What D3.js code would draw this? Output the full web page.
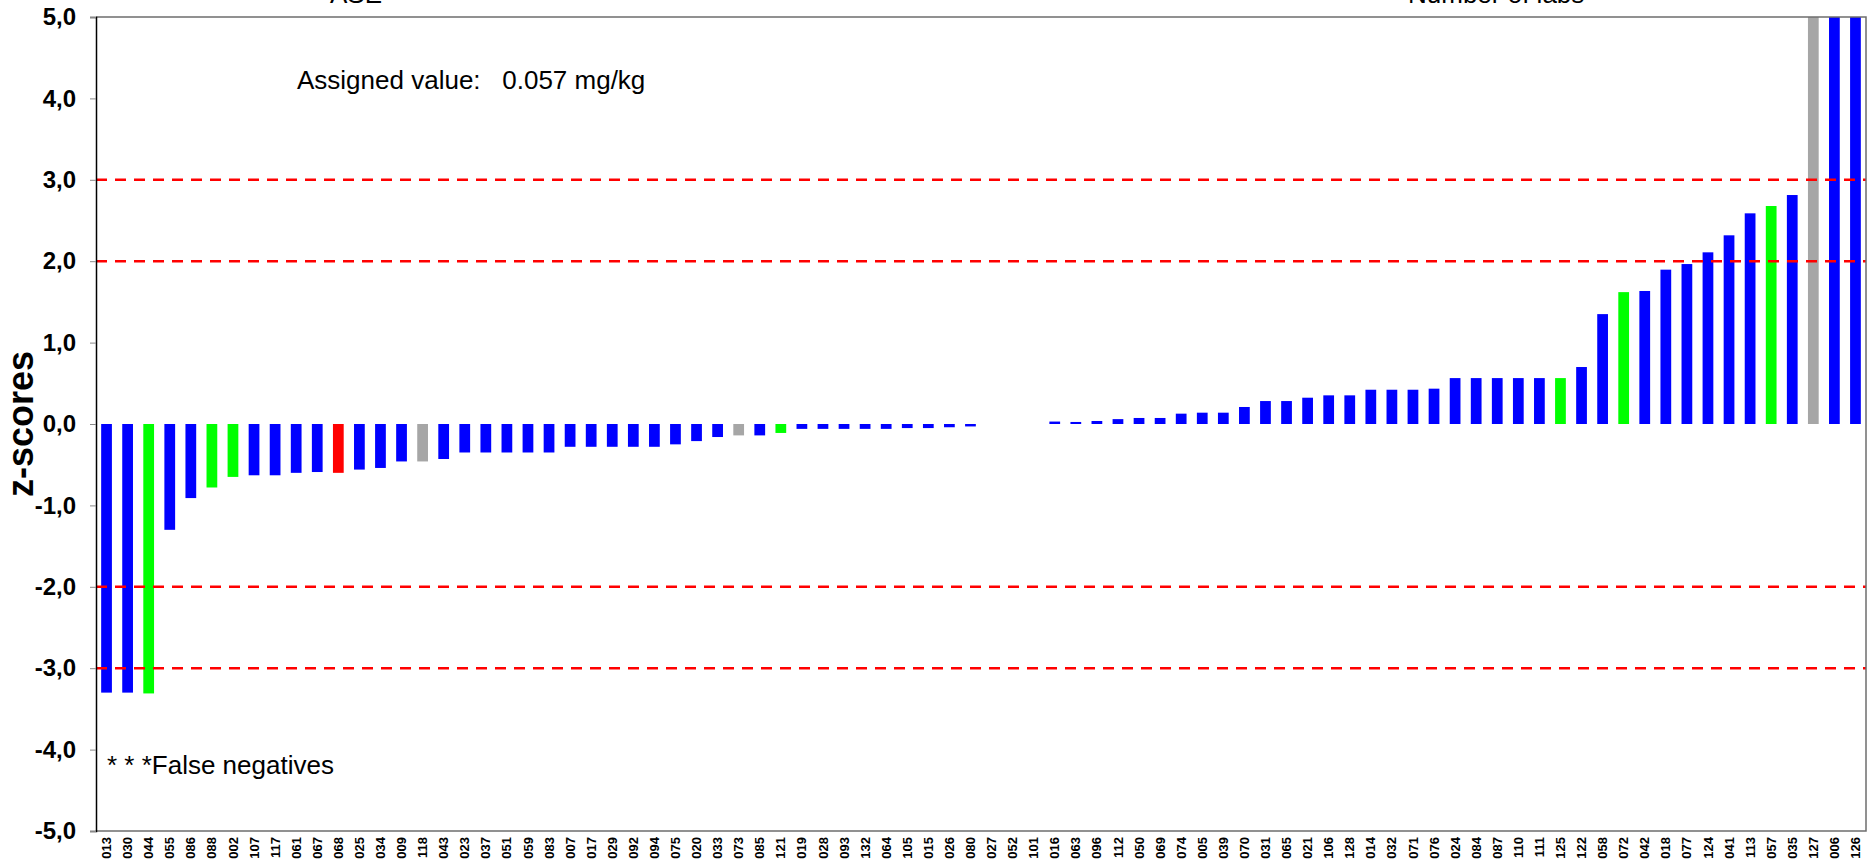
<!DOCTYPE html>
<html>
<head>
<meta charset="utf-8">
<script src="https://cdn.jsdelivr.net/npm/d3@7"></script>
<style>
  html, body { margin: 0; padding: 0; background: #fff; }
  svg { display: block; font-family: "Liberation Sans", Arial, sans-serif; }
</style>
</head>
<body>
<svg id="chart" width="1874" height="867"></svg>
<script>
// ---- data ----
const labs = ["013","030","044","055","086","088","002","107","117","061","067","068","025","034","009","118","043","023","037","051","059","083","007","017","029","092","094","075","020","033","073","085","121","019","028","093","132","064","105","015","026","080","027","052","101","016","063","096","112","050","069","074","005","039","070","031","065","021","106","128","014","032","071","076","024","084","087","110","111","125","122","058","072","042","018","077","124","041","113","057","035","127","006","126"];
const zScores = [-3.30,-3.30,-3.31,-1.30,-0.91,-0.78,-0.65,-0.63,-0.63,-0.60,-0.59,-0.60,-0.56,-0.54,-0.46,-0.46,-0.43,-0.35,-0.35,-0.35,-0.35,-0.35,-0.28,-0.28,-0.28,-0.28,-0.28,-0.25,-0.21,-0.16,-0.14,-0.14,-0.11,-0.06,-0.06,-0.06,-0.06,-0.06,-0.05,-0.05,-0.04,-0.03,0.00,0.00,0.00,0.03,0.025,0.037,0.06,0.074,0.074,0.127,0.139,0.139,0.209,0.282,0.282,0.323,0.352,0.352,0.421,0.421,0.421,0.434,0.564,0.564,0.564,0.564,0.564,0.564,0.70,1.35,1.62,1.634,1.896,1.965,2.109,2.318,2.588,2.678,2.813,5.9,7.4,10.2];
// bar category: "std" = regular lab, "grn", "red", "gry" as marked in the report
const barGroup = ["std","std","grn","std","std","grn","grn","std","std","std","std","red","std","std","std","gry","std","std","std","std","std","std","std","std","std","std","std","std","std","std","gry","std","grn","std","std","std","std","std","std","std","std","std","std","std","std","std","std","std","std","std","std","std","std","std","std","std","std","std","std","std","std","std","std","std","std","std","std","std","std","grn","std","std","grn","std","std","std","std","std","std","grn","std","gry","std","std"];
const yTicks = [-5,-4,-3,-2,-1,0,1,2,3,4,5];
const limitLines = [-3,-2,2,3];
const titleText = "ASE";
const labsText = "Number of labs";
const assignedText = "Assigned value:\u00a0\u00a0 0.057 mg/kg";
const noteText = "* * *False negatives";
const yLabel = "z-scores";

// ---- layout ----
const W = 1874, H = 867;
const plot = {left: 96, right: 1866, top: 17, bottom: 831};

const svg = d3.select("#chart");

const x = d3.scaleBand().domain(labs).range([plot.left, plot.right])
  .paddingInner(0.49).paddingOuter(0.245);
const y = d3.scaleLinear().domain([-5, 5]).range([plot.bottom, plot.top]);
const color = d3.scaleOrdinal().domain(["std","grn","red","gry"])
  .range(["#0000ff","#00ff00","#ff0000","#a6a6a6"]);

svg.append("defs").append("clipPath").attr("id","clip")
  .append("rect").attr("x", plot.left).attr("y", plot.top)
  .attr("width", plot.right - plot.left).attr("height", plot.bottom - plot.top);

// bars
svg.append("g").attr("clip-path","url(#clip)")
  .selectAll("rect").data(labs).join("rect")
  .attr("x", d => x(d))
  .attr("width", x.bandwidth())
  .attr("y", (d,i) => y(Math.max(0, zScores[i])))
  .attr("height", (d,i) => Math.abs(y(zScores[i]) - y(0)))
  .attr("fill", (d,i) => color(barGroup[i]));

// limit lines
svg.append("g").selectAll("line").data(limitLines).join("line")
  .attr("x1", plot.left).attr("x2", plot.right)
  .attr("y1", d => y(d)).attr("y2", d => y(d))
  .attr("stroke", "#ff0000").attr("stroke-width", 2.5)
  .attr("stroke-dasharray", "11,8");

// frame (top, right, bottom)
svg.append("path")
  .attr("d", `M${plot.left},${plot.top}H${plot.right}V${plot.bottom}H${plot.left}`)
  .attr("fill","none").attr("stroke","#6e6e6e").attr("stroke-width",1.5);

// y axis
const yAxis = d3.axisLeft(y).tickValues(yTicks).tickSize(6).tickPadding(14)
  .tickFormat(d => d3.format(".1f")(d).replace(".", ",").replace("\u2212","-"));
const gy = svg.append("g").attr("transform", `translate(${plot.left},0)`).call(yAxis);
gy.select(".domain").attr("stroke","#000").attr("stroke-width",1.5);
gy.selectAll(".tick line").attr("stroke","#888");
gy.selectAll(".tick text").attr("font-size", 24).attr("font-weight","bold")
  .attr("font-family", "'Liberation Sans', Arial, sans-serif").attr("fill","#000");

// x axis labels (no ticks)
const xAxis = d3.axisBottom(x).tickSize(0).tickPadding(0);
const gx = svg.append("g").attr("transform", `translate(0,${plot.bottom})`).call(xAxis);
gx.select(".domain").remove();
gx.selectAll(".tick text")
  .attr("font-size", 13).attr("font-weight","bold")
  .attr("font-family", "'Liberation Sans', Arial, sans-serif").attr("fill","#000")
  .attr("text-anchor","end")
  .attr("transform","translate(0,6) rotate(-90)")
  .attr("dy","0.35em").attr("x",0).attr("y",0);

// y label
svg.append("text")
  .attr("transform", `translate(33,${y(0)}) rotate(-90)`)
  .attr("text-anchor","middle")
  .attr("font-size", 36).attr("font-weight","bold")
  .text(yLabel);

// annotations
svg.append("text").attr("x", 297).attr("y", 89).attr("font-size", 26).text(assignedText);
svg.append("text").attr("x", 107).attr("y", 774).attr("font-size", 26).text(noteText);
svg.append("text").attr("x", 330).attr("y", 3).attr("font-size", 26).text(titleText);
svg.append("text").attr("x", 1408).attr("y", 3).attr("font-size", 26).text(labsText);
</script>
</body>
</html>
